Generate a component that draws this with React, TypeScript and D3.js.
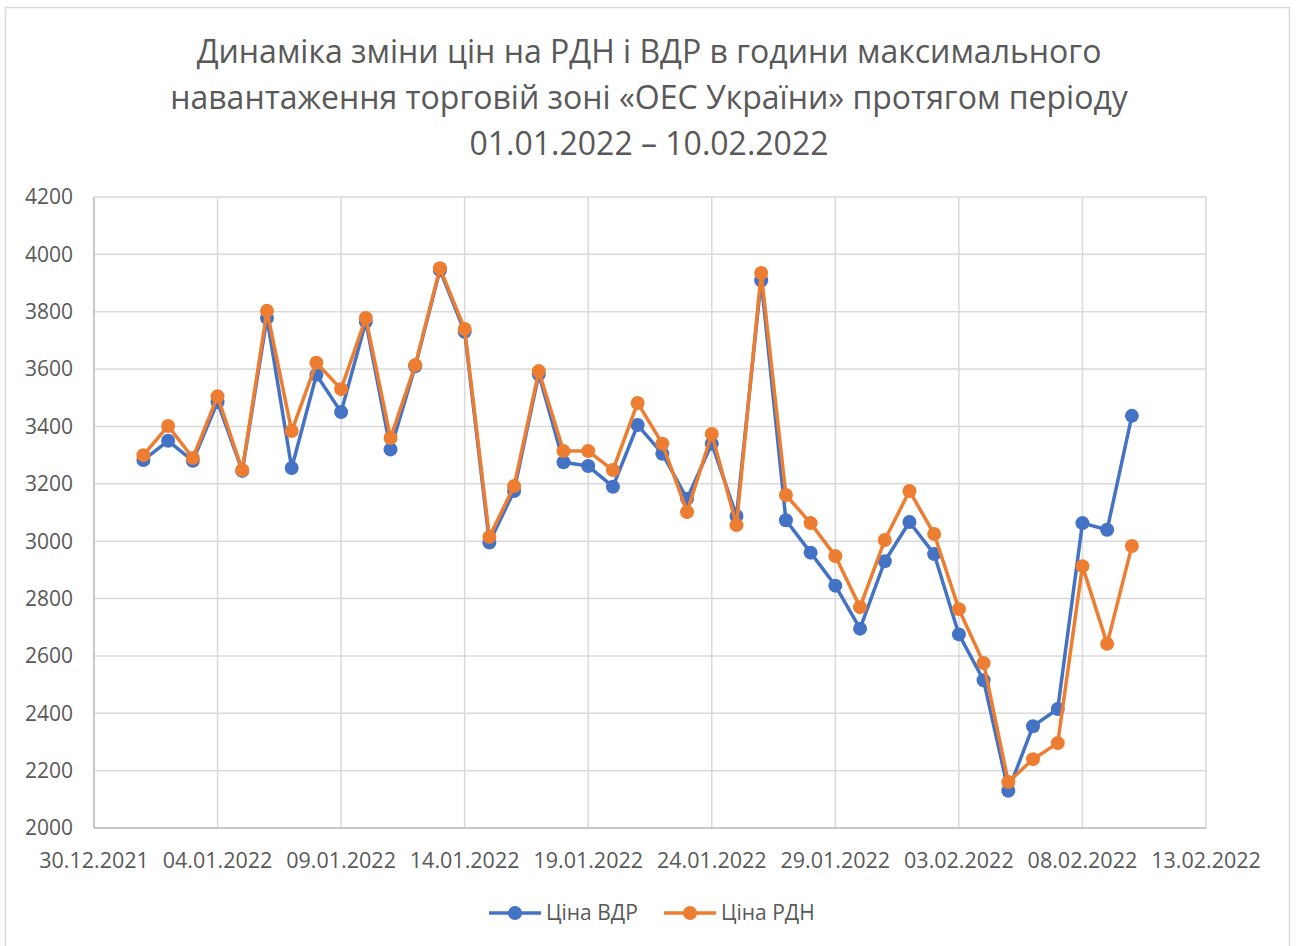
import React from "react";
import * as d3 from "d3";

const titleLines = [
  "Динаміка зміни цін на РДН і ВДР в години максимального",
  "навантаження торговій зоні «ОЕС України» протягом періоду",
  "01.01.2022 – 10.02.2022",
];

const firstDay = "2022-01-01";
const lastDay = "2022-02-10";

const priceVDR = [
  3283, 3350, 3280, 3485, 3245, 3778, 3255, 3580, 3450, 3765,
  3320, 3610, 3945, 3730, 2995, 3175, 3582, 3275, 3262, 3190,
  3405, 3305, 3148, 3340, 3088, 3910, 3073, 2960, 2845, 2695,
  2930, 3067, 2955, 2675, 2515, 2130, 2355, 2415, 3063, 3040, 3437,
];

const priceRDN = [
  3300, 3402, 3290, 3505, 3248, 3803, 3384, 3622, 3530, 3778,
  3360, 3614, 3952, 3740, 3015, 3192, 3593, 3314, 3314, 3248,
  3482, 3340, 3102, 3374, 3056, 3935, 3161, 3063, 2948, 2770,
  3004, 3175, 3025, 2763, 2575, 2160, 2240, 2296, 2913, 2642, 2983,
];

const xTickLabels = [
  "30.12.2021", "04.01.2022", "09.01.2022", "14.01.2022", "19.01.2022",
  "24.01.2022", "29.01.2022", "03.02.2022", "08.02.2022", "13.02.2022",
];

const yTicks = [2000, 2200, 2400, 2600, 2800, 3000, 3200, 3400, 3600, 3800, 4000, 4200];

const seriesNames = ["Ціна ВДР", "Ціна РДН"];
const seriesColors = ["#4472C4", "#ED7D31"];

const W = 1300;
const H = 946;
const FONT = "'Open Sans', 'Noto Sans', sans-serif";
const TEXT = "#595959";

const parseDMY = d3.timeParse("%d.%m.%Y");
const parseISO = d3.timeParse("%Y-%m-%d");

export default function App() {
  const start = parseISO(firstDay)!;
  const end = parseISO(lastDay)!;
  const days = d3.timeDay.range(start, d3.timeDay.offset(end, 1));
  const tickDates = xTickLabels.map((s) => parseDMY(s)!);

  const x = d3
    .scaleTime()
    .domain([tickDates[0], tickDates[tickDates.length - 1]])
    .range([94, 1206]);
  const y = d3.scaleLinear().domain([2000, 4200]).range([828, 197]);

  const line = d3
    .line<number>()
    .x((_, i) => x(days[i]))
    .y((v) => y(v));

  const series = [priceVDR, priceRDN];

  return (
    <div style={{ position: "absolute", left: 0, top: 0 }}>
      <svg width={W} height={H} style={{ display: "block", background: "#fff" }}>
        <rect x={5.5} y={7.5} width={1284} height={950} fill="#fff" stroke="#d9d9d9" strokeWidth={1.5} />
        {titleLines.map((t, i) => (
          <text
            key={i}
            x={649}
            y={63 + i * 46}
            textAnchor="middle"
            fontFamily={FONT}
            fontSize={32}
            fill={TEXT}
          >
            {t}
          </text>
        ))}
        {yTicks.map((v) => (
          <line key={"h" + v} x1={94} x2={1206} y1={y(v)} y2={y(v)} stroke="#d9d9d9" strokeWidth={1.5} />
        ))}
        {tickDates.map((d, i) => (
          <line key={"v" + i} x1={x(d)} x2={x(d)} y1={197} y2={828} stroke="#d9d9d9" strokeWidth={1.5} />
        ))}
        <line x1={94} x2={94} y1={197} y2={828} stroke="#bfbfbf" strokeWidth={1.5} />
        <line x1={94} x2={1206} y1={828} y2={828} stroke="#bfbfbf" strokeWidth={1.5} />
        {yTicks.map((v) => (
          <text
            key={"yl" + v}
            x={73}
            y={y(v)}
            dy="0.35em"
            textAnchor="end"
            fontFamily={FONT}
            fontSize={21}
            fill={TEXT}
          >
            {v}
          </text>
        ))}
        {tickDates.map((d, i) => (
          <text
            key={"xl" + i}
            x={x(d)}
            y={868}
            textAnchor="middle"
            fontFamily={FONT}
            fontSize={21.5}
            fill={TEXT}
          >
            {xTickLabels[i]}
          </text>
        ))}
        {series.map((s, si) => (
          <g key={"s" + si}>
            <path d={line(s)!} fill="none" stroke={seriesColors[si]} strokeWidth={3.5} strokeLinejoin="round" />
            {s.map((v, i) => (
              <circle key={i} cx={x(days[i])} cy={y(v)} r={7} fill={seriesColors[si]} />
            ))}
          </g>
        ))}
        {seriesNames.map((n, i) => {
          const lx = 489 + i * 175;
          return (
            <g key={"lg" + i}>
              <line x1={lx} x2={lx + 52} y1={913} y2={913} stroke={seriesColors[i]} strokeWidth={3.5} />
              <circle cx={lx + 26} cy={913} r={7} fill={seriesColors[i]} />
              <text x={lx + 57} y={913} dy="0.35em" fontFamily={FONT} fontSize={21} fill={TEXT}>
                {n}
              </text>
            </g>
          );
        })}
      </svg>
    </div>
  );
}
